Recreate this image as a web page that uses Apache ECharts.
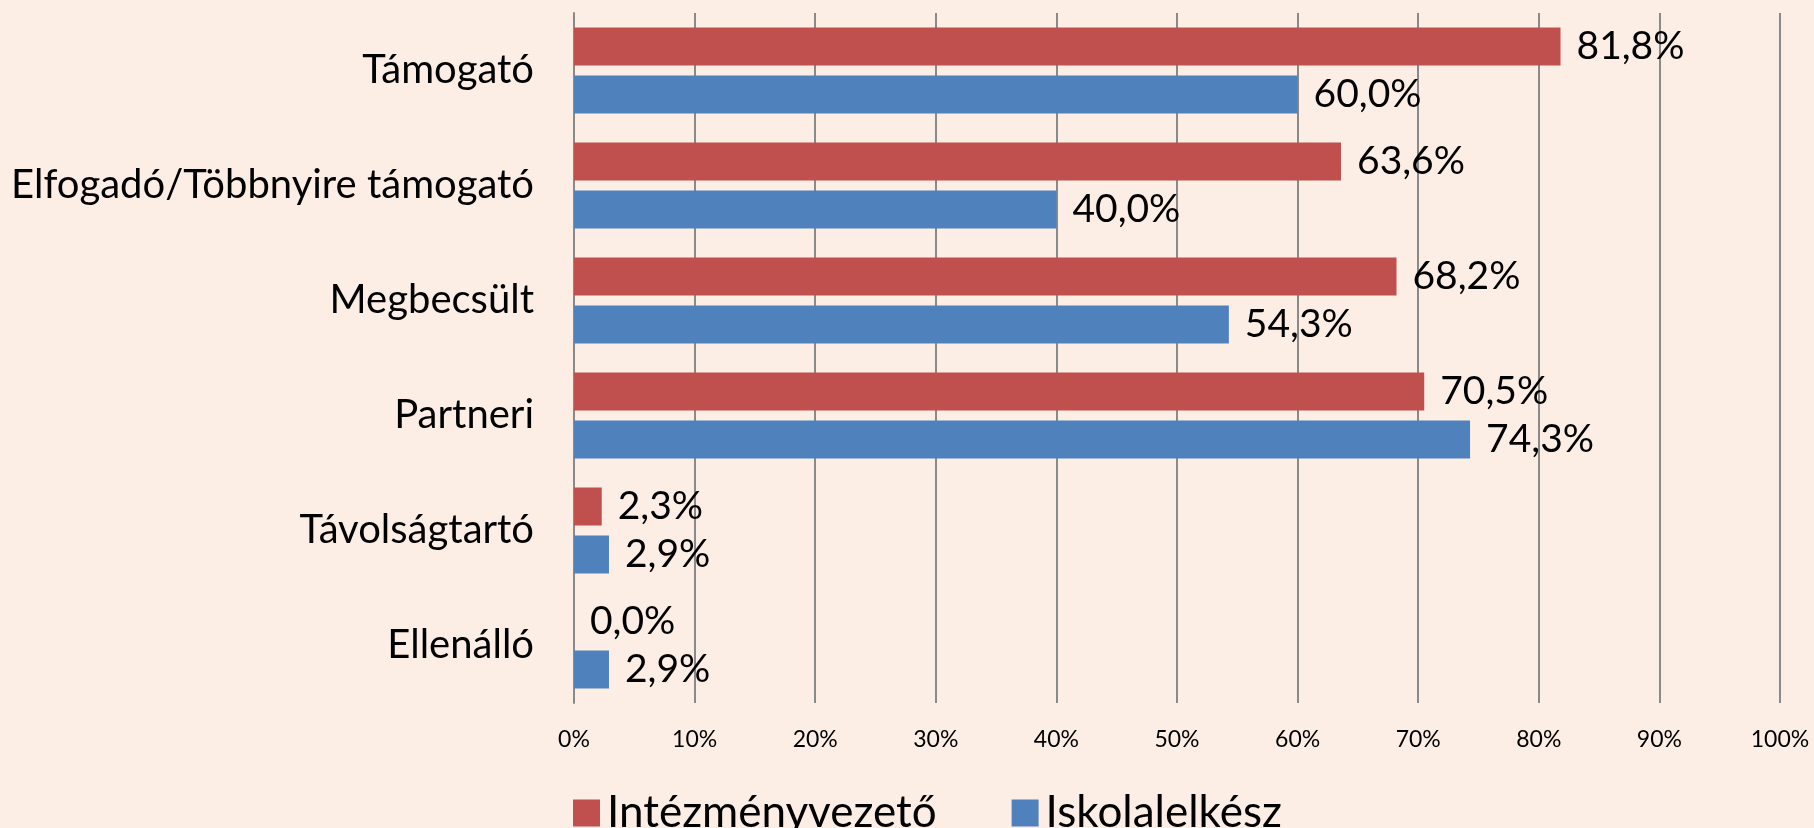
<!DOCTYPE html>
<html>
<head>
<meta charset="utf-8">
<script src="https://cdn.jsdelivr.net/npm/echarts@6/dist/echarts.min.js"></script>
<style>
html,body{margin:0;padding:0;background:#FCEEE5;}
#chart{width:1814px;height:828px;}
</style>
</head>
<body>
<div id="chart"></div>
<script>
const categories = ['Támogató', 'Elfogadó/Többnyire támogató', 'Megbecsült', 'Partneri', 'Távolságtartó', 'Ellenálló'];
const seriesNames = ['Intézményvezető', 'Iskolalelkész'];
const intezmenyvezeto = [81.8, 63.6, 68.2, 70.5, 2.3, 0.0];
const iskolalelkesz = [60.0, 40.0, 54.3, 74.3, 2.9, 2.9];
const xTicks = [0, 10, 20, 30, 40, 50, 60, 70, 80, 90, 100];

const FONT = 'Lato';
const fmt = v => v.toFixed(1).replace('.', ',') + '%';

const chart = echarts.init(document.getElementById('chart'), null, {renderer: 'canvas'});
const labelStyle = {
  show: true, position: 'right', distance: 16,
  fontFamily: FONT, fontSize: 39, color: '#000',
  formatter: p => fmt(p.value)
};
chart.setOption({
  backgroundColor: '#FCEEE5',
  animation: false,
  grid: {left: 574, right: 34, top: 13, bottom: 125, containLabel: false},
  legend: {
    data: seriesNames,
    left: 568, top: 786,
    itemWidth: 27, itemHeight: 27, itemGap: 75,
    icon: 'rect',
    textStyle: {fontFamily: FONT, fontSize: 44, color: '#000', padding: [0, 0, 0, 2]}
  },
  xAxis: {
    type: 'value', min: xTicks[0], max: xTicks[xTicks.length - 1], interval: 10,
    axisLine: {show: false}, axisTick: {show: false},
    axisLabel: {formatter: '{value}%', fontFamily: FONT, fontSize: 23, color: '#000', margin: 25},
    splitLine: {show: true, lineStyle: {color: '#8A8A8A', width: 2}}
  },
  yAxis: {
    type: 'category', data: categories, inverse: true,
    axisLine: {show: true, lineStyle: {color: '#8A8A8A', width: 2}},
    axisTick: {show: false},
    axisLabel: {fontFamily: FONT, fontSize: 40, color: '#000', margin: 40}
  },
  series: [
    {name: seriesNames[0], type: 'bar', data: intezmenyvezeto, barWidth: 38, barGap: '26%',
     itemStyle: {color: '#C0504D'}, label: labelStyle},
    {name: seriesNames[1], type: 'bar', data: iskolalelkesz, barWidth: 38, barGap: '26%',
     itemStyle: {color: '#4F81BD'}, label: labelStyle}
  ]
});
</script>
</body>
</html>
